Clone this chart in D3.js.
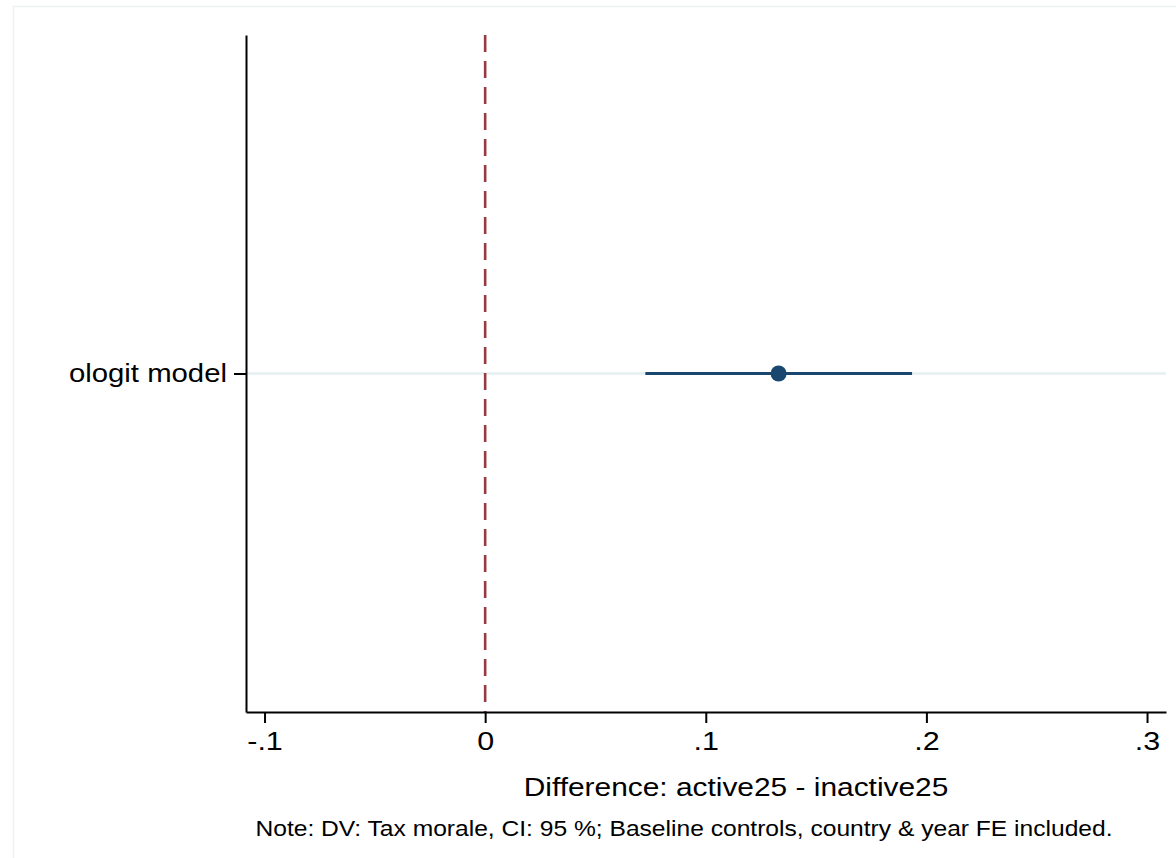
<!DOCTYPE html>
<html>
<head>
<meta charset="utf-8">
<script src="https://cdn.jsdelivr.net/npm/d3@7"></script>
<style>
  body { margin: 0; background: #fff; }
  text { font-family: "Liberation Sans", Arial, sans-serif; fill: #000; }
</style>
</head>
<body>
<svg id="chart" width="1176" height="858"></svg>
<script>
// data
const models = ["ologit model"];
const estimates = [0.133];
const ciLow = [0.0726];
const ciHigh = [0.1935];
const xTicks = [-0.1, 0, 0.1, 0.2, 0.3];
const xTickLabels = ["-.1", "0", ".1", ".2", ".3"];
const refLine = 0;
const xTitle = "Difference: active25 - inactive25";
const note = "Note: DV: Tax morale, CI: 95 %; Baseline controls, country & year FE included.";

var svg = d3.select("#chart"),
    margin = { top: 35, right: 10, bottom: 146, left: 246 },
    chartWidth = svg.attr("width") - margin.left - margin.right,
    chartHeight = svg.attr("height") - margin.top - margin.bottom;

const stretch = "scale(1.15,1)";

// outer frame
svg.append("rect")
  .attr("x", 13.5).attr("y", 6.5)
  .attr("width", 1200).attr("height", 900)
  .attr("fill", "none")
  .attr("stroke", "#eaf2f3")
  .attr("stroke-width", 1.5);

const g = svg.append("g")
  .attr("transform", "translate(" + margin.left + "," + margin.top + ")");

//scales
const x = d3.scaleLinear()
  .domain([-0.1084, 0.3086])
  .range([0, chartWidth]);

const y = d3.scalePoint()
  .domain(models)
  .range([0, chartHeight])
  .padding(0.5);

// grid line per row
g.selectAll(".grid")
  .data(models)
  .enter().append("line")
    .attr("class", "grid")
    .attr("x1", 0).attr("x2", chartWidth)
    .attr("y1", d => y(d)).attr("y2", d => y(d))
    .attr("stroke", "#e6eff1")
    .attr("stroke-width", 2.5);

// reference line
g.append("line")
  .attr("x1", x(refLine)).attr("x2", x(refLine))
  .attr("y1", 0).attr("y2", chartHeight)
  .attr("stroke", "#983a41")
  .attr("stroke-width", 2.6)
  .attr("stroke-dasharray", "17,9");

// CI lines
g.selectAll(".ci")
  .data(models)
  .enter().append("line")
    .attr("class", "ci")
    .attr("x1", (d, i) => x(ciLow[i]))
    .attr("x2", (d, i) => x(ciHigh[i]))
    .attr("y1", d => y(d)).attr("y2", d => y(d))
    .attr("stroke", "#1a476f")
    .attr("stroke-width", 3);

// points
g.selectAll(".pt")
  .data(models)
  .enter().append("circle")
    .attr("class", "pt")
    .attr("cx", (d, i) => x(estimates[i]))
    .attr("cy", d => y(d))
    .attr("r", 8)
    .attr("fill", "#1a476f");

// x axis
const xAxis = g.append("g")
  .attr("transform", "translate(0," + chartHeight + ")")
  .call(d3.axisBottom(x)
    .tickValues(xTicks)
    .tickFormat((d, i) => xTickLabels[i])
    .tickSizeInner(11)
    .tickSizeOuter(0)
    .tickPadding(8));
xAxis.select(".domain").attr("stroke", "#000").attr("stroke-width", 2);
xAxis.selectAll(".tick line").attr("stroke", "#000").attr("stroke-width", 2);
xAxis.selectAll(".tick text")
  .attr("font-size", 26.5)
  .attr("font-family", "Liberation Sans, Arial, sans-serif")
  .attr("fill", "#000")
  .attr("transform", stretch);

// y axis
const yAxis = g.append("g")
  .call(d3.axisLeft(y)
    .tickSizeInner(12)
    .tickSizeOuter(0)
    .tickPadding(6));
yAxis.select(".domain").attr("stroke", "#000").attr("stroke-width", 2);
yAxis.selectAll(".tick line").attr("stroke", "#000").attr("stroke-width", 2);
yAxis.selectAll(".tick text")
  .attr("font-size", 25.5)
  .attr("font-family", "Liberation Sans, Arial, sans-serif")
  .attr("fill", "#000")
  .attr("transform", "translate(-19,0) " + stretch)
  .attr("x", 0);

// titles
svg.append("text")
  .attr("transform", "translate(736,796) " + stretch)
  .attr("text-anchor", "middle")
  .attr("font-size", 26)
  .text(xTitle);

svg.append("text")
  .attr("transform", "translate(684,836) " + stretch)
  .attr("text-anchor", "middle")
  .attr("font-size", 21.4)
  .text(note);
</script>
</body>
</html>
